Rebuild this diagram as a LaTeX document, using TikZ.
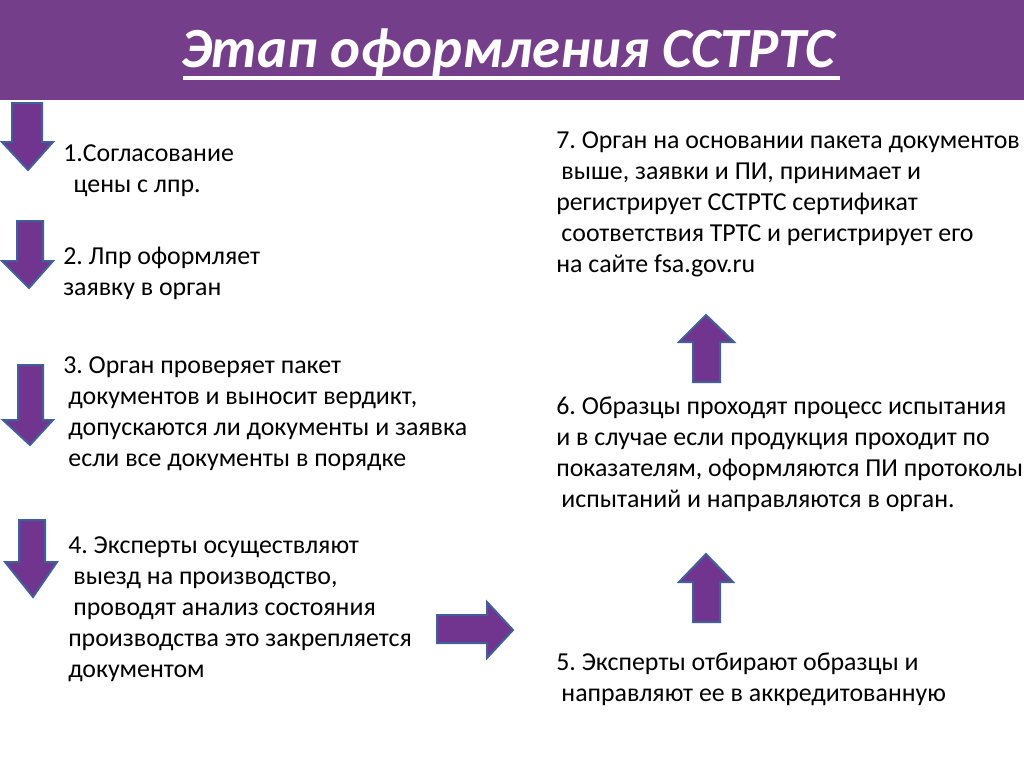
\documentclass[tikz,border=0pt]{standalone}
\usepackage{fontspec}
\setmainfont{Carlito}
\usepackage{tikz}
\frenchspacing

\definecolor{headpurple}{HTML}{743E8A}
\definecolor{arrowfill}{HTML}{71358F}
\definecolor{arrowline}{HTML}{41609A}

\tikzset{
  steptext/.style={anchor=north west, inner sep=0pt, align=left,
    font=\fontsize{19.4}{23.1}\selectfont},
  blockarrow/.style={fill=arrowfill, draw=arrowline, line width=1.5pt, line join=miter}
}
\newcommand{\ind}{\hspace*{0.2em}}

\begin{document}
\begin{tikzpicture}[x=0.75pt,y=-0.75pt]
\useasboundingbox (0,0) rectangle (1024,767);
% header
\fill [headpurple] (0,0) rectangle (1024,100);
\draw [white, line width=2.4pt] (183,78) -- (840,78);
\node (title) [anchor=base west, inner sep=0pt, text=white,
  font=\fontsize{42.6}{50}\selectfont\bfseries\itshape] at (181,68) {Этап оформления ССТРТС};
% down arrows
\filldraw [blockarrow] (12,103) -- (42,103) -- (42,142) -- (53,142) -- (28,170) -- (2,142) -- (12,142) -- cycle;
\filldraw [blockarrow] (17,221) -- (43,221) -- (43,261) -- (53,261) -- (29,288) -- (2,261) -- (17,261) -- cycle;
\filldraw [blockarrow] (18,365) -- (43,365) -- (43,420) -- (53,420) -- (30,445) -- (3,420) -- (18,420) -- cycle;
\filldraw [blockarrow] (19,520) -- (45,520) -- (45,562) -- (57,562) -- (33,597) -- (5,562) -- (19,562) -- cycle;
% right arrow
\filldraw [blockarrow] (437,615) -- (487,615) -- (487,602) -- (513,630) -- (487,658) -- (487,643) -- (437,643) -- cycle;
% up arrows
\filldraw [blockarrow] (693,382) -- (693,342) -- (679,342) -- (706,315) -- (734,342) -- (720,342) -- (720,382) -- cycle;
\filldraw [blockarrow] (693,622) -- (693,582) -- (679,582) -- (706,554) -- (733,582) -- (720,582) -- (720,622) -- cycle;
% steps
\node (s1) [steptext] at (63,140) {\strut 1.Согласование\\ \ind\ind цены с лпр.};
\node (s2) [steptext] at (63,243) {\strut 2. Лпр оформляет\\заявку в орган};
\node (s3) [steptext] at (63,352) {\strut 3. Орган проверяет пакет\\ \ind документов и выносит вердикт,\\ \ind допускаются ли документы и заявка\\ \ind если все документы в порядке};
\node (s4) [steptext] at (68,532) {\strut 4. Эксперты осуществляют\\ \ind выезд на производство,\\ \ind проводят анализ состояния\\производства это закрепляется\\документом};
\node (s7) [steptext] at (556,127) {\strut 7. Орган на основании пакета документов\\ \ind выше, заявки и ПИ, принимает и\\регистрирует ССТРТС сертификат\\ \ind соответствия ТРТС и регистрирует его\\на сайте fsa.gov.ru};
\node (s6) [steptext] at (556,393) {\strut 6. Образцы проходят процесс испытания\\и в случае если продукция проходит по\\показателям, оформляются ПИ протоколы\\ \ind испытаний и направляются в орган.};
\node (s5) [steptext] at (556,649) {\strut 5. Эксперты отбирают образцы и\\ \ind направляют ее в аккредитованную};
\end{tikzpicture}
\end{document}
